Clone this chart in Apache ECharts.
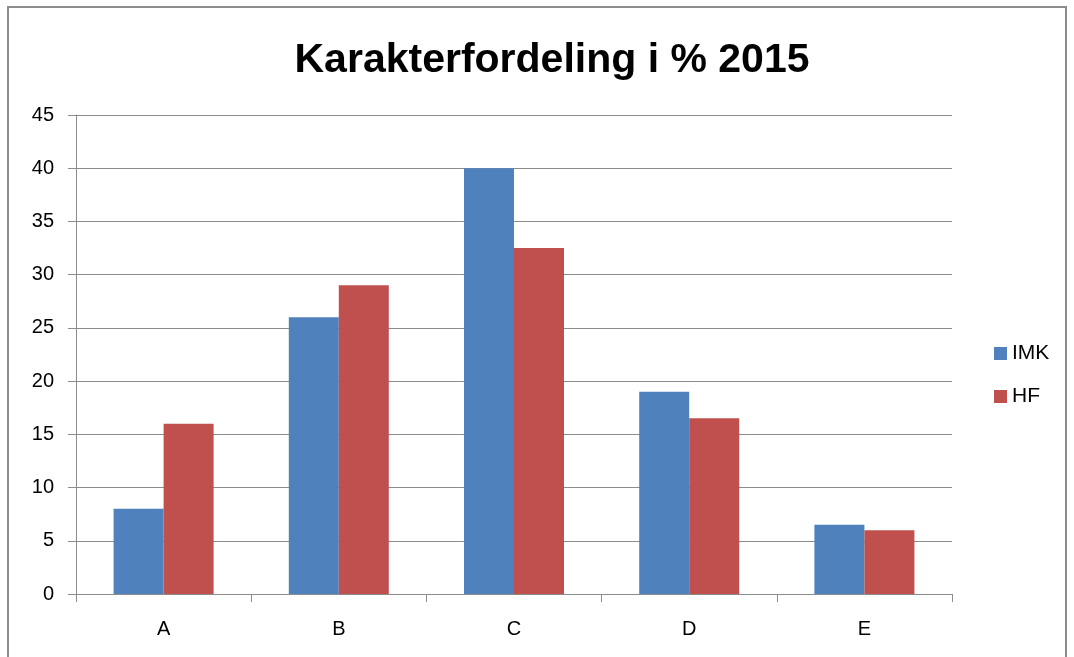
<!DOCTYPE html>
<html>
<head>
<meta charset="utf-8">
<script src="https://cdn.jsdelivr.net/npm/echarts@6/dist/echarts.min.js"></script>
<style>
  html, body { margin: 0; padding: 0; background: #fff; }
  #main { position: absolute; left: 7px; top: 6px; width: 1060px; height: 660px;
          border: 2px solid #8c8c8c; box-sizing: border-box; }
</style>
</head>
<body>
<div id="main"></div>
<script>
const categories = ['A', 'B', 'C', 'D', 'E'];
const imkValues = [8, 26, 40, 19, 6.5];
const hfValues = [16, 29, 32.5, 16.5, 6];

const chart = echarts.init(document.getElementById('main'));
const font = 'Liberation Sans';
chart.setOption({
  animation: false,
  title: {
    text: 'Karakterfordeling i % 2015',
    left: 538, top: 27, textAlign: 'center',
    textStyle: { fontFamily: font, fontWeight: 'bold', fontSize: 41, color: '#000' }
  },
  legend: {
    orient: 'vertical',
    left: 980, top: 330,
    itemGap: 22,
    itemWidth: 13, itemHeight: 13,
    icon: 'rect',
    textStyle: { fontFamily: font, fontSize: 21, color: '#000' },
    data: ['IMK', 'HF']
  },
  grid: { left: 67, top: 107, width: 876, height: 479 },
  xAxis: {
    type: 'category',
    data: categories,
    axisLine: { lineStyle: { color: '#8c8c8c', width: 1 } },
    axisTick: { show: true, length: 8, lineStyle: { color: '#8c8c8c' } },
    axisLabel: { fontFamily: font, fontSize: 20, color: '#000', margin: 25 }
  },
  yAxis: {
    type: 'value',
    min: 0, max: 45, interval: 5,
    axisLine: { show: true, lineStyle: { color: '#8c8c8c', width: 1 } },
    axisTick: { show: true, length: 8, lineStyle: { color: '#8c8c8c' } },
    axisLabel: { fontFamily: font, fontSize: 20, color: '#000', margin: 22 },
    splitLine: { lineStyle: { color: '#8c8c8c', width: 1 } }
  },
  series: [
    { name: 'IMK', type: 'bar', data: imkValues, barWidth: 50, barGap: '0%',
      itemStyle: { color: '#4f81bd' } },
    { name: 'HF', type: 'bar', data: hfValues, barWidth: 50,
      itemStyle: { color: '#c0504d' } }
  ]
});
</script>
</body>
</html>
